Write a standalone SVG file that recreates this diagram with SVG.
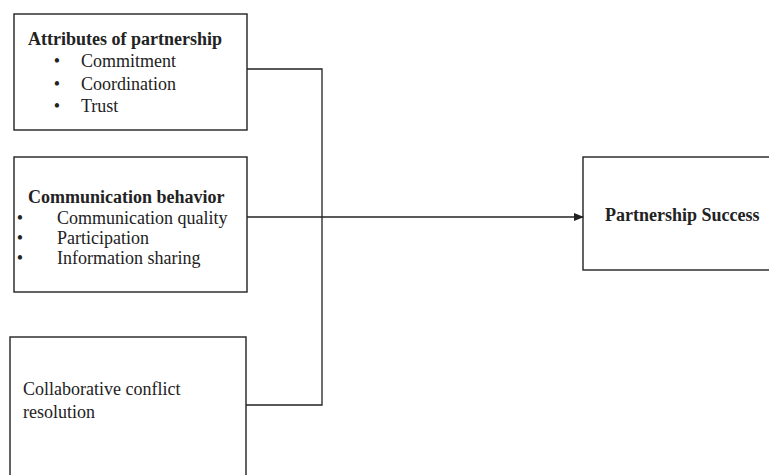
<svg xmlns="http://www.w3.org/2000/svg" width="769" height="475" viewBox="0 0 769 475">
<defs>
<style>
.box{fill:#fff;stroke:#222;stroke-width:1.4}
.t{font-family:"Liberation Serif","Times New Roman",serif;font-size:18px;fill:#222}
.b{font-weight:bold}
.d{font-family:"Liberation Serif","Times New Roman",serif;font-size:18px;fill:#222;text-anchor:middle}
.c{fill:none;stroke:#222;stroke-width:1.3}
</style>
<marker id="ah" markerWidth="10" markerHeight="10" refX="9" refY="5" orient="auto" markerUnits="userSpaceOnUse">
<path d="M0,1 L10,5 L0,9 Z" fill="#222"/>
</marker>
</defs>
<rect width="769" height="475" fill="#fff"/>
<g id="attributes">
<rect class="box" x="14" y="14" width="233" height="116"/>
<text class="t b" x="28" y="45">Attributes of partnership</text>
<text class="d" x="57" y="67">•</text><text class="t" x="81" y="67">Commitment</text>
<text class="d" x="57" y="90">•</text><text class="t" x="81" y="90">Coordination</text>
<text class="d" x="57" y="112">•</text><text class="t" x="81" y="112">Trust</text>
</g>
<g id="communication">
<rect class="box" x="14" y="157" width="233" height="135"/>
<text class="t b" x="28" y="203">Communication behavior</text>
<text class="d" x="20" y="224">•</text><text class="t" x="57" y="224">Communication quality</text>
<text class="d" x="20" y="244">•</text><text class="t" x="57" y="244">Participation</text>
<text class="d" x="20" y="264">•</text><text class="t" x="57" y="264">Information sharing</text>
</g>
<g id="conflict">
<rect class="box" x="10" y="337" width="236" height="150"/>
<text class="t" x="23" y="395">Collaborative conflict</text>
<text class="t" x="23" y="418">resolution</text>
</g>
<g id="success">
<rect class="box" x="583" y="157" width="200" height="113"/>
<text class="t b" x="605" y="221">Partnership Success</text>
</g>
<g id="connectors">
<polyline class="c" points="247,69 322,69 322,405 246,405"/>
<line class="c" x1="247" y1="217" x2="583" y2="217" marker-end="url(#ah)"/>
</g>
</svg>
